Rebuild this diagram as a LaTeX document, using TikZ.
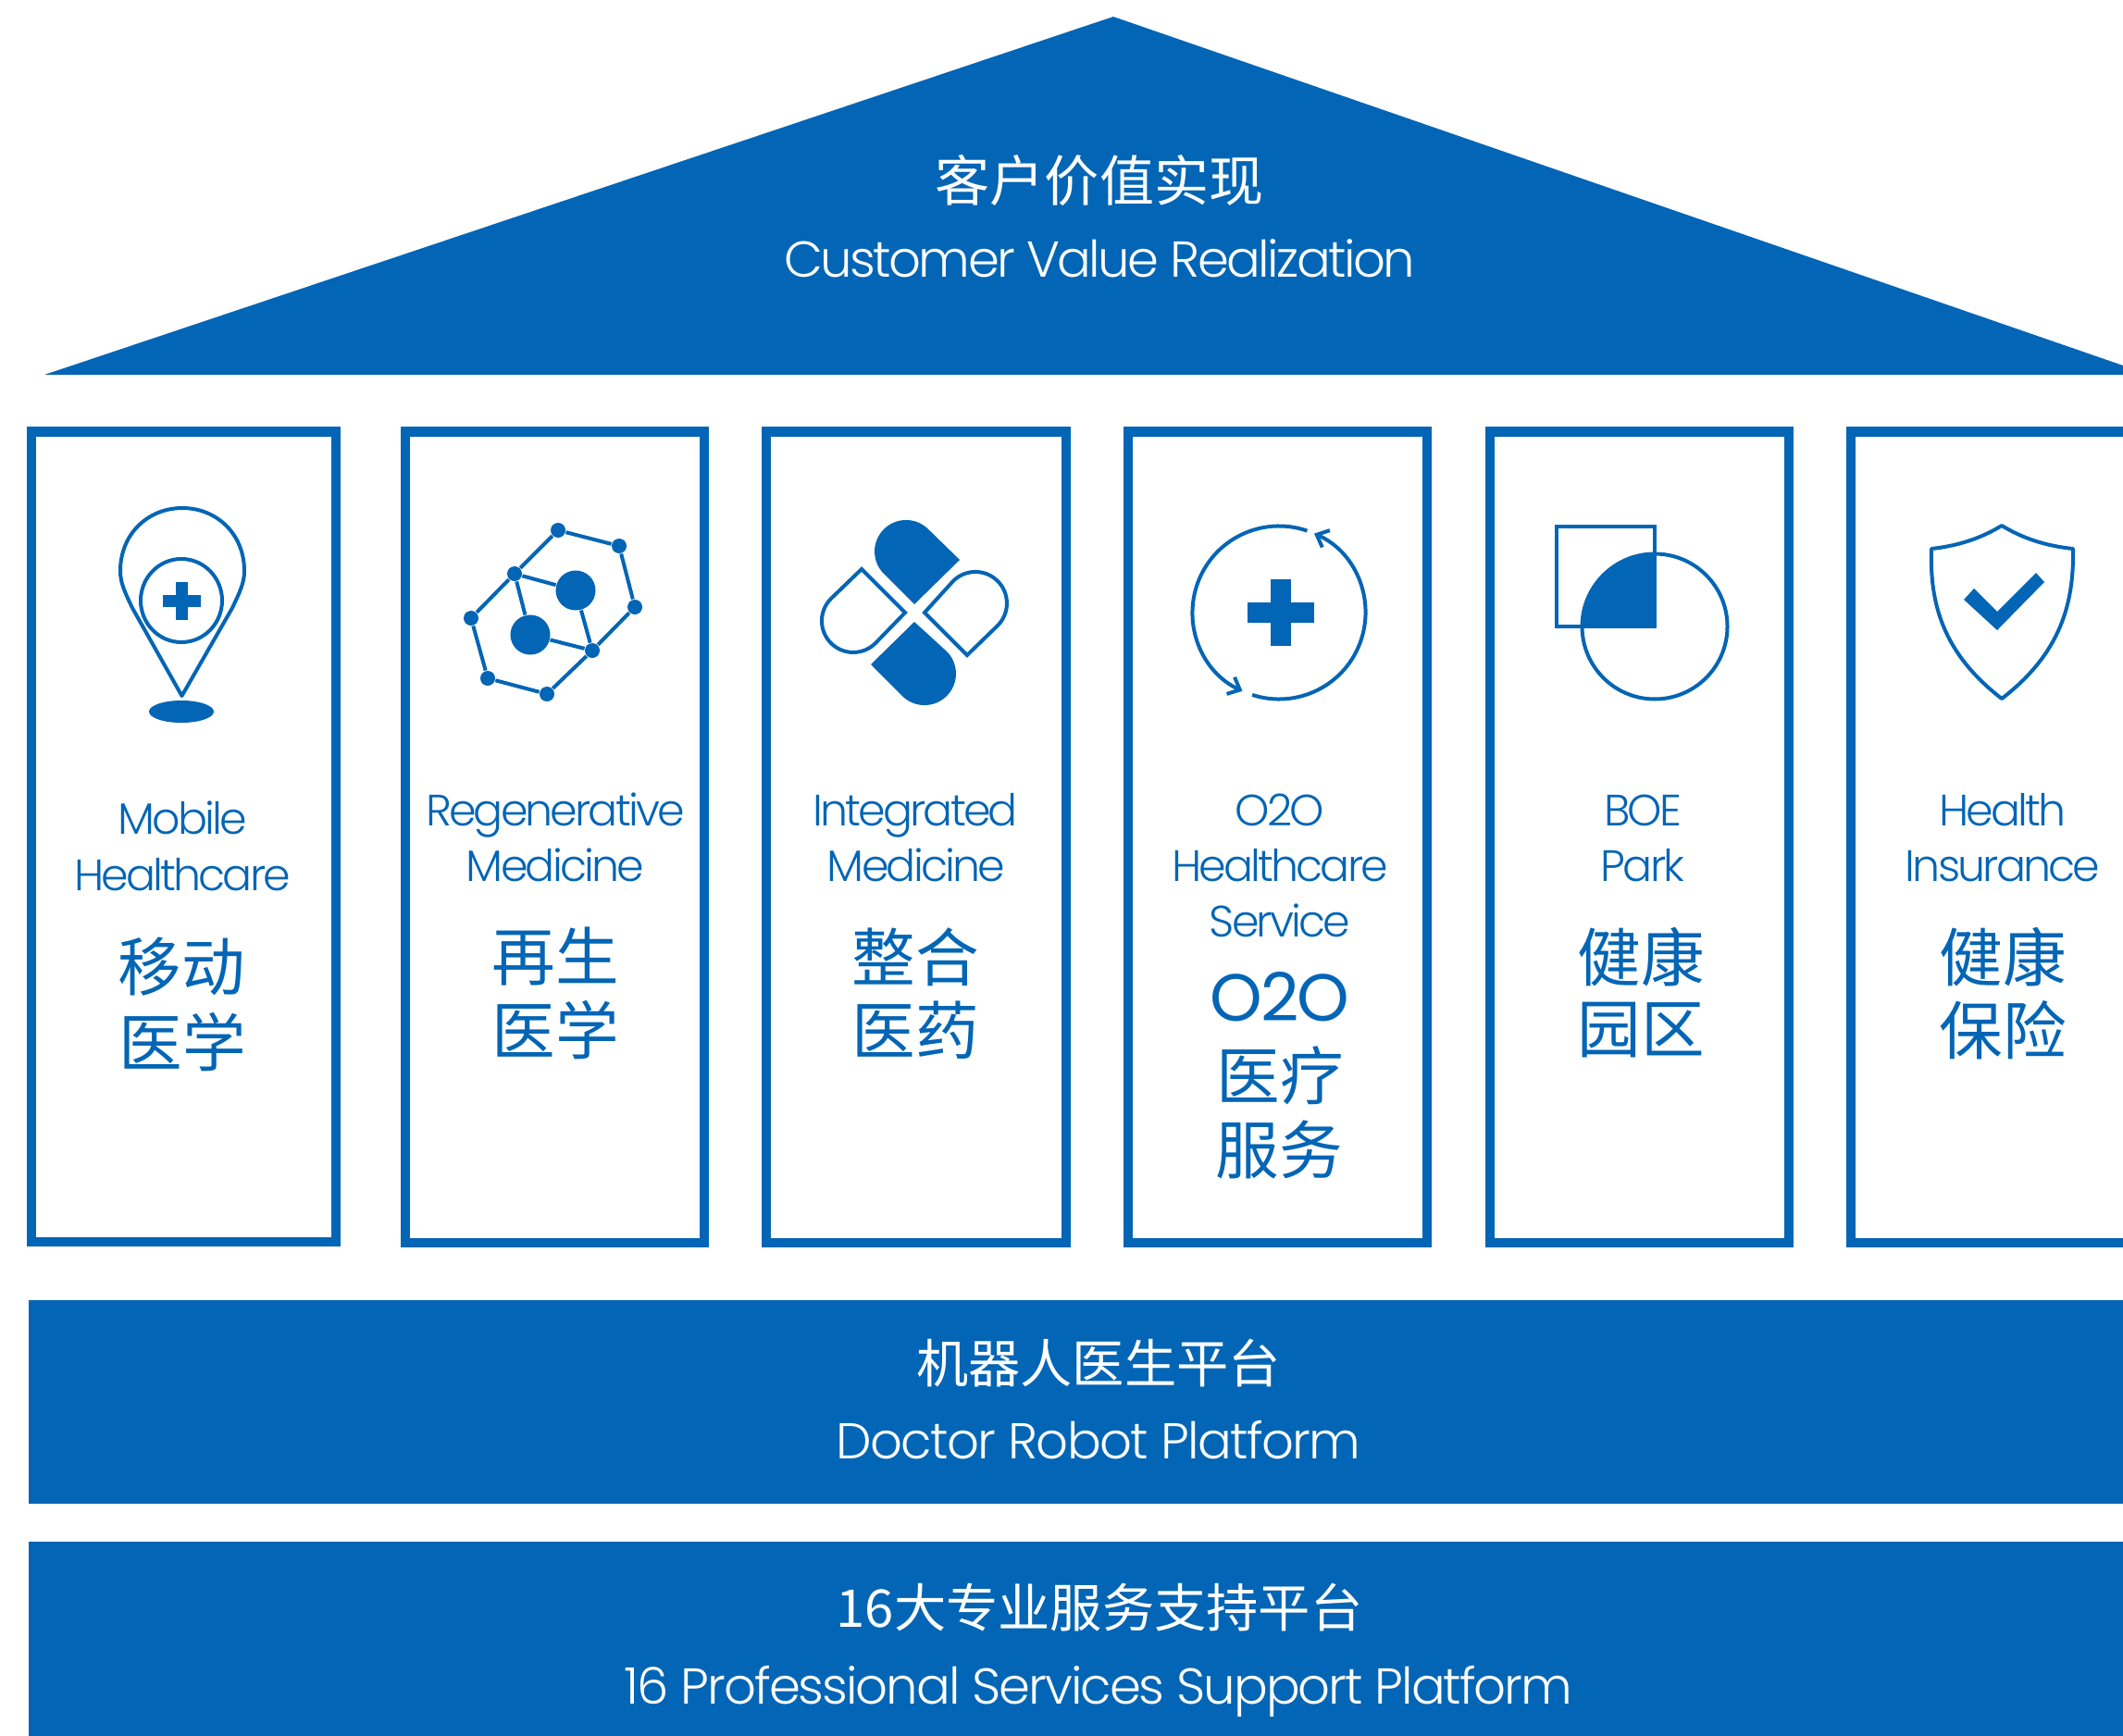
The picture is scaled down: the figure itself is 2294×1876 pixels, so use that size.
\documentclass[tikz,border=0pt]{standalone}
\usepackage{fontspec}
\usetikzlibrary{arrows.meta}
\setmainfont[LetterSpace=-3]{Poppins Light}
\newfontfamily\enroof[LetterSpace=-4.75]{Poppins Light}
\newfontfamily\enlong[LetterSpace=-3.7]{Poppins Light}
\newfontfamily\enblue[LetterSpace=-6]{Poppins Light}
\newfontfamily\enbig[LetterSpace=-3]{Poppins}
\newfontfamily\cjk{Noto Sans CJK SC}
\definecolor{boe}{HTML}{0365B5}
\tikzset{
  solidshape/.style={fill=boe,draw=none},
  pillar/.style={draw=boe,line width=0.1cm,fill=white},
  iconline/.style={draw=boe,line width=0.04cm},
  white en/.style={text=white,inner sep=0,text height=11.2pt,text depth=0pt,font=\fontsize{15.5}{15.5}\selectfont},
  white zh/.style={text=white,inner sep=0,font=\cjk\fontsize{16}{16}\selectfont},
  blue en/.style={text=boe,inner sep=0,text height=9.9pt,text depth=0pt,font=\enblue\fontsize{13.5}{13.5}\selectfont},
  blue zh/.style={text=boe,inner sep=0,font=\cjk\fontsize{19.5}{19.5}\selectfont},
  dot/.style={circle,fill=boe,inner sep=0,minimum size=0.16cm},
  bigdot/.style={circle,fill=boe,inner sep=0,minimum size=0.43cm},
  turn/.style={iconline,-{Straight Barb[length=0.11cm,width=0.2cm]}},
}
\begin{document}
\begin{tikzpicture}[x=0.01cm,y=-0.01cm]
\useasboundingbox (0,0) rectangle (2294,1876);
\fill[white] (0,0) rectangle (2294,1876);
% roof
\path[solidshape] (1203,18) -- (2294,395) -- (2294,405) -- (48,405) -- cycle;
\node[white zh,font=\cjk\fontsize{16.8}{16.8}\selectfont] (roofzh) at (1188,195) {客户价值实现};
\node[white en,font=\enroof\fontsize{15.5}{15.5}\selectfont] (roofen) at (1188,280) {Customer Value Realization};
% pillars
\draw[pillar] (34,466.5) rectangle (362.8,1341.7);
\draw[pillar] (438,466.5) rectangle (761,1343);
\draw[pillar] (828,466.5) rectangle (1152,1343);
\draw[pillar] (1219,466.5) rectangle (1542,1343);
\draw[pillar] (1609.5,466.5) rectangle (1933,1343);
\draw[pillar] (2000,466.5) rectangle (2330,1343);
% bars
\path[solidshape] (30.7,1405) rectangle (2294,1625);
\path[solidshape] (30.7,1665.5) rectangle (2294,1876);
\node[white zh] (barazh) at (1187,1473) {机器人医生平台};
\node[white en] (baraen) at (1187,1557) {Doctor Robot Platform};
\node[white zh] (barbzh) at (1188,1737) {16大专业服务支持平台};
\node[white en,font=\enlong\fontsize{15.5}{15.5}\selectfont] (barben) at (1187,1822) {16 Professional Services Support Platform};
% pin icon
\draw[iconline,line join=round] (196.5,752) -- (143,657) .. controls (135,640) and (130,630) .. (130,617)
  .. controls (130,577) and (160,549) .. (197,549)
  .. controls (234,549) and (264,577) .. (264,617)
  .. controls (264,630) and (259,640) .. (251,657) -- cycle;
\draw[iconline] (196,649) ellipse [x radius=44,y radius=45];
\fill[boe] (190,629) rectangle (203,670);
\fill[boe] (176,643) rectangle (217,656);
\fill[boe] (196,769) ellipse [x radius=35,y radius=12];
% molecule icon
\node[dot] (ma) at (603,573) {};
\node[dot] (mb) at (669,590) {};
\node[dot] (mc) at (686,656) {};
\node[dot] (md) at (640,703) {};
\node[dot] (me) at (591,750) {};
\node[dot] (mf) at (527,733) {};
\node[dot] (mg) at (509,668) {};
\node[dot] (mh) at (556,620) {};
\node[bigdot] (mi) at (622,638) {};
\node[bigdot] (mj) at (573,686) {};
\draw[iconline] (ma)--(mb)--(mc)--(md)--(me)--(mf)--(mg)--(mh)--(ma);
\draw[iconline] (mh)--(mi)--(md) (mh)--(mj)--(md);
% capsule icon
\path[solidshape] (1037,605) -- (988,653) -- (955,620) arc[start angle=135,end angle=315,radius=34] -- cycle;
\path[solidshape] (988,672) -- (1023,704) arc[start angle=-45,end angle=135,radius=34] -- (941,718) -- cycle;
\draw[iconline] (931,615) -- (978,662) -- (946,695) arc[start angle=45,end angle=225,radius=34] -- cycle;
\draw[iconline] (999,662) -- (1045,708) -- (1078,676) arc[start angle=45,end angle=-135,radius=34] -- cycle;
% cycle icon
\draw[turn] (1382,662) ++(-71:93.5) arc[start angle=-71,end angle=-245,radius=93.5];
\draw[turn] (1382,662) ++(108:93.5) arc[start angle=108,end angle=-66,radius=93.5];
\fill[boe] (1373,626) rectangle (1395,698);
\fill[boe] (1348,651) rectangle (1420,673);
% park icon
\draw[iconline] (1682,569) rectangle (1788,677);
\draw[iconline] (1788,677) circle [radius=78.5];
\fill[boe] (1788,677) -- (1709.5,677) arc[start angle=180,end angle=270,radius=78.5] -- cycle;
% shield icon
\draw[iconline,line join=round] (2163,568) .. controls (2140,582) and (2115,590) .. (2087,593)
  .. controls (2085,650) and (2098,705) .. (2163,755)
  .. controls (2228,705) and (2241,650) .. (2240,593)
  .. controls (2211,590) and (2186,582) .. (2163,568) -- cycle;
\fill[boe] (2122,648) -- (2133,636) -- (2158,661) -- (2200,619) -- (2209,629) -- (2158,681) -- cycle;
% pillar text
\node[blue en] (pa1) at (197,884) {Mobile};
\node[blue en] (pa2) at (197,945) {Healthcare};
\node[blue zh] (pa3) at (196,1045) {移动};
\node[blue zh] (pa4) at (197,1126) {医学};
\node[blue en] (pb1) at (600,875) {Regenerative};
\node[blue en] (pb2) at (600,935) {Medicine};
\node[blue zh] (pb3) at (600,1034) {再生};
\node[blue zh] (pb4) at (600,1113) {医学};
\node[blue en] (pc1) at (989,875) {Integrated};
\node[blue en] (pc2) at (990,935) {Medicine};
\node[blue zh] (pc3) at (989,1034) {整合};
\node[blue zh] (pc4) at (989,1113) {医药};
\node[blue en] (pd1) at (1383,875) {O2O};
\node[blue en] (pd2) at (1383,935) {Healthcare};
\node[blue en] (pd3) at (1383,995) {Service};
\node[blue zh,font=\enbig\fontsize{20.5}{20.5}\selectfont] (pd4) at (1383,1077) {O2O};
\node[blue zh] (pd5) at (1383,1162) {医疗};
\node[blue zh] (pd6) at (1382,1242) {服务};
\node[blue en] (pe1) at (1775,875) {BOE};
\node[blue en] (pe2) at (1775,935) {Park};
\node[blue zh] (pe3) at (1773,1034) {健康};
\node[blue zh] (pe4) at (1773,1113) {园区};
\node[blue en] (pf1) at (2164,875) {Health};
\node[blue en] (pf2) at (2164,935) {Insurance};
\node[blue zh] (pf3) at (2164,1034) {健康};
\node[blue zh] (pf4) at (2164,1113) {保险};
\end{tikzpicture}
\end{document}
